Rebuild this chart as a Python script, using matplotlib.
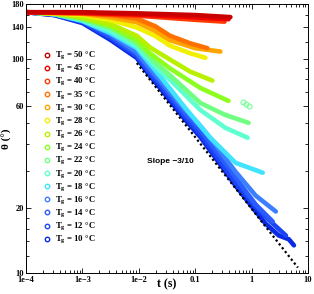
import matplotlib
matplotlib.use("Agg")
import matplotlib.pyplot as plt
from matplotlib.ticker import FixedLocator, NullFormatter
import numpy as np

# temperatures and colours
temps = [50, 45, 40, 35, 30, 28, 26, 24, 22, 20, 18, 16, 14, 12, 10]
colors = ['#c80000', '#f00000', '#ff3a00', '#ff7000', '#ffa500', '#f2f000',
          '#b8f000', '#8cff20', '#70ff80', '#60ffd0', '#40e4ff', '#3d80ff',
          '#2a5cff', '#1a44f5', '#0a2ae6']

# curves: t (s), theta (deg)
t50 = [1e-4, 1e-3, 9.2e-3, 0.1, 0.42]
th50 = [165, 165, 163, 160, 156.5]
t45 = [1e-4, 1e-3, 9.2e-3, 0.1, 0.39]
th45 = [165, 164, 161, 156, 153]
t40 = [1e-4, 1e-3, 9.2e-3, 0.1, 0.33]
th40 = [165, 163, 159, 152, 149]
t35 = [1e-4, 1e-3, 3.16e-3, 9.2e-3, 0.0193, 0.0358, 0.0814, 0.164]
th35 = [165, 163, 160, 154, 142, 128, 118, 112]
t30 = [1e-4, 1e-3, 3.16e-3, 9.2e-3, 0.0193, 0.0358, 0.1, 0.279]
th30 = [165, 162, 156, 148, 135, 122, 112, 108]
t28 = [1e-4, 1e-3, 3.16e-3, 9.2e-3, 0.0193, 0.0358, 0.0814, 0.151]
th28 = [165, 160, 151.5, 140, 128, 115, 106, 101]
t26 = [1e-4, 3.16e-4, 1e-3, 3.16e-3, 9.2e-3, 0.0157, 0.0358, 0.0814, 0.201]
th26 = [165, 163, 156, 145, 128, 113, 99, 87, 79]
t24 = [1e-4, 3.16e-4, 1e-3, 3.16e-3, 9.2e-3, 0.0157, 0.0358, 0.1228, 0.388]
th24 = [165, 163, 155, 142, 122, 106, 90, 73, 63.5]
t22 = [1e-4, 3.16e-4, 1e-3, 3.16e-3, 9.2e-3, 0.0193, 0.044, 0.1228, 0.34, 0.884]
th22 = [165, 161.7, 153, 139, 118.4, 96.5, 79.6, 62.1, 54.6, 50.1]
t20 = [1e-4, 3.16e-4, 1e-3, 3.16e-3, 9.2e-3, 0.0193, 0.044, 0.1228, 0.343, 0.849]
th20 = [165, 161.7, 151.5, 134.7, 114.6, 92.5, 75.4, 57.6, 47.5, 42.7]
t18 = [1e-4, 3.16e-4, 1e-3, 3.16e-3, 9.2e-3, 0.0237, 0.0663, 0.185, 0.518, 1.57]
th18 = [165, 161.7, 150, 131.8, 112.2, 83, 58.9, 42.7, 32.6, 29.3]
t16 = [1e-4, 3.16e-4, 1e-3, 3.16e-3, 9.2e-3, 0.0157, 0.0237, 0.0663, 0.1228,
       0.228, 0.518, 1.18, 2.68]
th16 = [165, 161.7, 151.5, 130.4, 107.5, 90.5, 79.6, 57.6, 48.5, 39.6, 29.6,
        22.9, 19.3]
t14 = [1e-4, 3.16e-4, 1e-3, 3.16e-3, 9.2e-3, 0.0157, 0.0237, 0.0663, 0.1228,
       0.228, 0.518, 1.18, 2.37]
th14 = [165, 161.7, 150, 127.6, 105.2, 87.6, 77.9, 55.2, 46.5, 37.5, 27.8,
        20.8, 17.3]
t12 = [1e-4, 3.16e-4, 1e-3, 3.16e-3, 9.2e-3, 0.0157, 0.0237, 0.0663, 0.1228,
       0.228, 0.518, 1.18, 2.18, 4.05]
th12 = [165, 160, 148.4, 124.9, 102.9, 84.9, 75.4, 53.5, 44.5, 35.5, 26.3,
        20.3, 17.3, 14.9]
t10 = [1e-4, 3.16e-4, 1e-3, 3.16e-3, 9.2e-3, 0.0157, 0.0237, 0.0663, 0.1228,
       0.228, 0.518, 1.18, 1.78, 3.03, 4.58, 5.62]
th10 = [165, 160, 146.8, 122.3, 100.8, 83.1, 73, 51.8, 43.1, 34.4, 25.5,
        19.3, 16.9, 14.9, 14.3, 13.4]

curves_t = [t50, t45, t40, t35, t30, t28, t26, t24, t22, t20, t18, t16, t14, t12, t10]
curves_th = [th50, th45, th40, th35, th30, th28, th26, th24, th22, th20, th18,
             th16, th14, th12, th10]

# stray points
t_stray = [0.69, 0.78, 0.88]
th_stray = [62.8, 61.5, 60.2]

# reference power-law line
t_slope = [0.0092, 6.6]
th_slope = [95.5, 10.55]

serif = 'Liberation Serif'

fig = plt.figure(figsize=(3.14, 2.94), dpi=100)
ax = fig.add_axes([0.083, 0.073, 0.898, 0.913])

for tt, th, c in list(zip(curves_t, curves_th, colors))[::-1]:
    ax.plot(tt, th, '-', color=c, lw=3.3, solid_capstyle='round',
            solid_joinstyle='round')
ax.plot(t_stray, th_stray, 'o', mfc='none', mec='#80ffa0', ms=3.5, mew=0.9)

ax.plot(t_slope, th_slope, color='black', lw=1.6, ls=(0, (1, 1.2)))

for T, c in zip(temps, colors):
    ax.plot([], [], 'o', mfc='none', mec=c, ms=3.2, mew=1.0,
            label='T$_\\mathregular{g}$ = %d °C' % T)

leg = ax.legend(loc='upper left', bbox_to_anchor=(0.045, 0.845), frameon=False,
                prop={'family': serif, 'weight': 'bold', 'size': 6.3},
                handlelength=0.8, handletextpad=0.6, labelspacing=0.12,
                borderpad=0)

ax.text(0.036, 33.2, 'Slope \u22123/10', family='Liberation Sans',
        weight='bold', size=6, ha='center', va='center')

ax.set_xscale('log')
ax.set_yscale('log')
ax.set_xlim(1e-4, 10)
ax.set_ylim(10, 180)

xt = [1e-4, 1e-3, 1e-2, 0.1, 1, 10]
xl = ['1e\u22124', '1e\u22123', '1e\u22122', '0.1', '1', '10']
ax.xaxis.set_major_locator(FixedLocator(xt))
ax.set_xticklabels(xl)
xminor = [m * 10.0 ** e for e in range(-4, 1) for m in range(2, 10)]
ax.xaxis.set_minor_locator(FixedLocator(xminor))
ax.xaxis.set_minor_formatter(NullFormatter())

yt = [10, 20, 60, 100, 140, 180]
ax.yaxis.set_major_locator(FixedLocator(yt))
ax.set_yticklabels([str(v) for v in yt])
ax.yaxis.set_minor_locator(FixedLocator([12, 14, 16, 18, 30, 40, 50, 70, 80,
                                         90, 120, 160]))
ax.yaxis.set_minor_formatter(NullFormatter())

ax.tick_params(which='both', direction='in', top=True, right=True, width=0.6)
ax.tick_params(which='major', length=3.5)
ax.tick_params(axis='x', which='major', pad=2.5)
ax.tick_params(axis='y', which='major', pad=1.5)
ax.tick_params(which='minor', length=2)
for lab in ax.get_xticklabels() + ax.get_yticklabels():
    lab.set_family(serif)
    lab.set_weight('bold')
    lab.set_size(6)
for s in ax.spines.values():
    s.set_linewidth(0.7)

ax.set_xlabel('t (s)', family=serif, weight='bold', size=8.5)
ax.xaxis.set_label_coords(0.5, -0.022)
ax.set_ylabel('\u03b8 (°)', family=serif, weight='bold', size=8)
ax.yaxis.set_label_coords(-0.05, 0.5)

fig.savefig('out.png', dpi=100)
